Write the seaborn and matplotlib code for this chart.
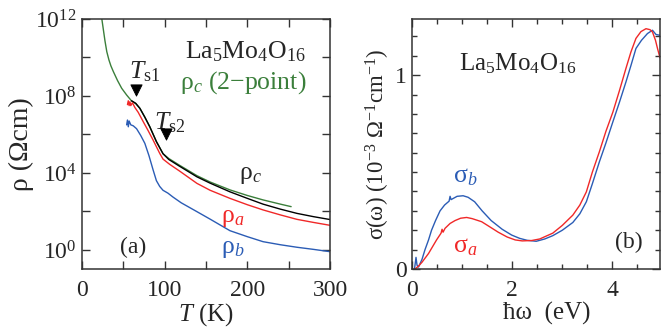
import numpy as np
import pandas as pd
import matplotlib
matplotlib.use("Agg")
import matplotlib.pyplot as plt
import seaborn as sns
from matplotlib.ticker import NullFormatter

# ---- panel (a): resistivity vs T (log10 of rho in Ohm cm)
T_c2pt = [23, 25.4, 27.8, 30, 32.6, 35, 38, 43, 48, 54, 60, 65, 70, 76, 82, 90, 98, 105, 118, 139, 155,
          179, 200, 219, 240, 253]
logrho_c2pt = [12.3, 11.58, 10.86, 10.3, 9.87, 9.56, 9.26, 8.8, 8.4, 8.05, 7.74, 7.6, 7.36, 6.9, 6.4, 5.63,
               5.0, 4.75, 4.4, 3.86, 3.53, 3.12, 2.83, 2.6, 2.38, 2.25]

T_c = [60, 65, 70, 76, 82, 90, 98, 105, 118, 139, 155, 179, 200, 219, 240, 260, 280, 300]
logrho_c = [7.75, 7.62, 7.36, 6.9, 6.4, 5.63, 5.0, 4.7, 4.35, 3.8, 3.47, 3.02, 2.68, 2.38, 2.12, 1.9, 1.73, 1.58]

T_a = [55, 56, 57, 58, 59, 61, 64, 68, 74, 80, 86, 94, 98, 106, 118, 139, 155, 179, 200, 219, 240, 260, 280, 300]
logrho_a = [7.55, 7.75, 7.5, 7.7, 7.5, 7.65, 7.4, 7.15, 6.67, 6.2, 5.71, 5.02, 4.72, 4.45, 4.1, 3.46, 3.1,
            2.68, 2.35, 2.08, 1.82, 1.59, 1.43, 1.28]

T_b = [54, 55, 56, 57, 59, 62, 66, 71, 76, 81, 86, 90, 94, 98, 104, 110, 120, 139, 155, 165, 179, 200,
       219, 240, 260, 280, 300]
logrho_b = [6.5, 6.75, 6.4, 6.7, 6.5, 6.45, 6.3, 5.95, 5.54, 4.9, 4.16, 3.6, 3.3, 3.1, 2.95, 2.75, 2.45,
            1.99, 1.6, 1.35, 1.0, 0.69, 0.43, 0.27, 0.14, 0.03, -0.09]

# structural transitions (marker positions)
Ts_T = [65, 102]
Ts_logrho = [8.3, 6.0]

# ---- panel (b): optical conductivity (10^-3 Ohm^-1 cm^-1)
E_b = [0.05, 0.08, 0.1, 0.13, 0.2, 0.26, 0.33, 0.39, 0.47, 0.56, 0.65, 0.74, 0.76, 0.78, 0.9, 1.02, 1.12,
       1.25, 1.4, 1.58, 1.8, 1.99, 2.15, 2.3, 2.48, 2.65, 2.81, 3.0, 3.21, 3.35, 3.48, 3.6, 3.74, 3.87,
       4.01, 4.14, 4.27, 4.37, 4.47, 4.58, 4.7, 4.8, 4.87, 4.95]
sigma_b = [0.0, 0.06, 0.02, 0.01, 0.05, 0.1, 0.15, 0.2, 0.25, 0.3, 0.33, 0.35, 0.375, 0.358, 0.375, 0.378,
           0.37, 0.347, 0.3, 0.25, 0.205, 0.175, 0.158, 0.148, 0.143, 0.155, 0.172, 0.2, 0.24, 0.285,
           0.347, 0.44, 0.553, 0.65, 0.76, 0.86, 0.965, 1.05, 1.138, 1.18, 1.215, 1.232, 1.21, 1.206]

E_a = [0.06, 0.13, 0.2, 0.33, 0.41, 0.49, 0.58, 0.6, 0.62, 0.66, 0.76, 0.86, 0.97, 1.09, 1.2, 1.39, 1.55,
       1.72, 1.9, 2.06, 2.2, 2.39, 2.55, 2.81, 3.0, 3.21, 3.35, 3.48, 3.6, 3.74, 3.87, 4.01, 4.14, 4.27,
       4.37, 4.47, 4.57, 4.67, 4.75, 4.8, 4.86, 4.9, 4.95]
sigma_a = [0.0, 0.015, 0.035, 0.08, 0.115, 0.15, 0.185, 0.205, 0.19, 0.21, 0.235, 0.25, 0.262, 0.266,
           0.26, 0.244, 0.218, 0.19, 0.165, 0.15, 0.145, 0.147, 0.155, 0.185, 0.225, 0.278, 0.33, 0.398,
           0.5, 0.605, 0.71, 0.81, 0.92, 1.035, 1.12, 1.19, 1.225, 1.24, 1.235, 1.223, 1.18, 1.138, 1.09]

GREEN = "#3b7f3b"
RED = "#f02828"
BLUE = "#2b5cb5"
SERIF = "Liberation Serif"

sns.set_theme(style="ticks")
plt.rcParams["font.family"] = [SERIF, "DejaVu Sans"]
plt.rcParams["mathtext.fontset"] = "custom"
plt.rcParams["mathtext.rm"] = SERIF
plt.rcParams["mathtext.it"] = SERIF + ":italic"
plt.rcParams["mathtext.bf"] = SERIF + ":bold"
plt.rcParams["axes.edgecolor"] = "#333333"
plt.rcParams["axes.linewidth"] = 1.1

FS = 17      # tick labels
FL = 18      # axis labels
FT = 18.5    # annotations
LW = 1.0

fig = plt.figure(figsize=(6.61, 3.35), dpi=100)
axa = fig.add_axes([82 / 661, 66 / 335, 248 / 661, 250 / 335])
axb = fig.add_axes([412 / 661, 66 / 335, 248 / 661, 250 / 335])

# panel (a)
curves = [(T_c2pt, logrho_c2pt, GREEN), (T_c, logrho_c, "black"), (T_a, logrho_a, RED), (T_b, logrho_b, BLUE)]
for T, lr, col in curves:
    sns.lineplot(x=T, y=np.power(10.0, lr), ax=axa, color=col, lw=LW, sort=False, estimator=None)
sns.scatterplot(x=Ts_T, y=np.power(10.0, Ts_logrho), ax=axa, marker="v", s=65, color="black",
                edgecolor="black", zorder=5)
axa.set_yscale("log")
axa.set_xlim(0, 300)
axa.set_ylim(10 ** -0.99, 1e12)
axa.set_xticks([0, 100, 200, 300])
axa.set_xticks([50, 150, 250], minor=True)
axa.set_yticks([1, 1e4, 1e8, 1e12])
axa.set_yticks([1e2, 1e6, 1e10], minor=True)
axa.yaxis.set_minor_formatter(NullFormatter())
axa.tick_params(which="both", direction="in", top=True, right=True, length=6, width=1, labelsize=FS,
                color="#333333")
axa.tick_params(axis="x", pad=8)
axa.tick_params(axis="y", pad=4)
axa.set_xlabel("$T$ (K)", fontsize=FL, labelpad=0)
axa.set_ylabel("ρ (Ωcm)", fontsize=20, labelpad=1)

axa.text(0.415, 0.87, "La$_5$Mo$_4$O$_{16}$", transform=axa.transAxes, fontsize=FT, ha="left", va="center")
axa.text(0.395, 0.745, "ρ$_c$ (2−point)", transform=axa.transAxes, fontsize=FT, ha="left",
         va="center", color=GREEN)
axa.text(0.19, 0.79, "$T_{\\rm s1}$", transform=axa.transAxes, fontsize=FT, ha="left", va="center")
axa.text(0.29, 0.585, "$T_{\\rm s2}$", transform=axa.transAxes, fontsize=FT, ha="left", va="center")
axa.text(0.635, 0.375, "ρ$_c$", transform=axa.transAxes, fontsize=FT, ha="left", va="center")
axa.text(0.56, 0.205, "ρ$_a$", transform=axa.transAxes, fontsize=FT, ha="left", va="center", color=RED)
axa.text(0.56, 0.08, "ρ$_b$", transform=axa.transAxes, fontsize=FT, ha="left", va="center", color=BLUE)
axa.text(0.153, 0.085, "(a)", transform=axa.transAxes, fontsize=FS, ha="left", va="center")

# panel (b)
sns.lineplot(x=E_b, y=sigma_b, ax=axb, color=BLUE, lw=LW, sort=False, estimator=None)
sns.lineplot(x=E_a, y=sigma_a, ax=axb, color=RED, lw=LW, sort=False, estimator=None)
axb.set_xlim(0, 4.95)
axb.set_ylim(0, 1.29)
axb.set_xticks([0, 2, 4])
axb.set_xticks(np.arange(0.5, 5.0, 0.5), minor=True)
axb.set_yticks([0, 1])
axb.set_yticks(np.arange(0.1, 1.3, 0.1), minor=True)
axb.tick_params(which="major", direction="in", top=True, right=True, length=6, width=1, labelsize=FS,
                color="#333333")
axb.tick_params(which="minor", direction="in", top=True, right=True, length=3.5, width=1, color="#333333")
axb.tick_params(axis="x", pad=8)
axb.tick_params(axis="y", pad=4)
axb.set_xlabel("ħω  (eV)", fontsize=FL, labelpad=0)
axb.xaxis.set_label_coords(0.545, -0.13)
axb.set_ylabel("σ(ω) (10$^{-3}$ Ω$^{-1}$cm$^{-1}$)", fontsize=16.5, labelpad=2)

axb.text(0.19, 0.82, "La$_5$Mo$_4$O$_{16}$", transform=axb.transAxes, fontsize=FT - 0.5, ha="left", va="center")
axb.text(0.165, 0.37, "σ$_b$", transform=axb.transAxes, fontsize=FT, ha="left", va="center", color=BLUE)
axb.text(0.165, 0.088, "σ$_a$", transform=axb.transAxes, fontsize=FT, ha="left", va="center", color=RED)
axb.text(0.82, 0.108, "(b)", transform=axb.transAxes, fontsize=FS, ha="left", va="center")

fig.savefig("out.png", dpi=100)
